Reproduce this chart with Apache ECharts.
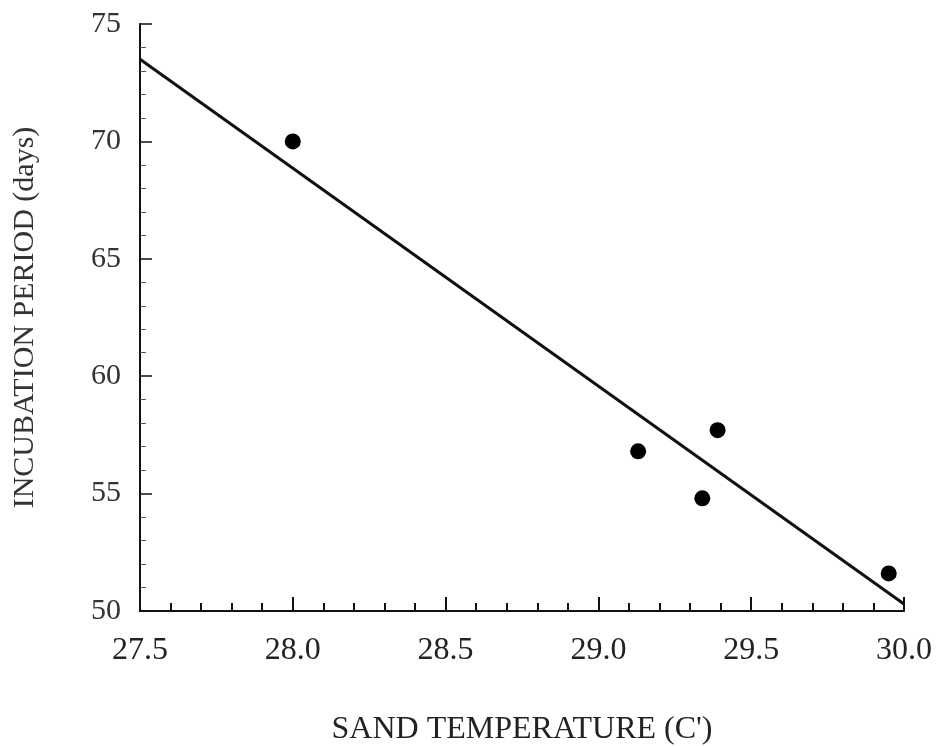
<!DOCTYPE html>
<html>
<head>
<meta charset="utf-8">
<script src="https://cdn.jsdelivr.net/npm/echarts@6/dist/echarts.min.js"></script>
<style>
  html, body { margin: 0; padding: 0; background: #fff; }
  #chart { width: 937px; height: 746px; }
</style>
</head>
<body>
<div id="chart"></div>
<script>
// observed points (sand temperature, incubation days)
var temps = [28.0, 29.13, 29.34, 29.39, 29.95];
var days = [70.0, 56.8, 54.8, 57.7, 51.6];
// fitted line ends
var fitX = [27.5, 30.0];
var fitY = [73.5, 50.3];

var xTicks = ['27.5', '28.0', '28.5', '29.0', '29.5', '30.0'];

var chart = echarts.init(document.getElementById('chart'));
var serif = '"Liberation Serif", "DejaVu Serif", serif';

var option = {
    animation: false,
    grid: {
        left: 140,
        right: 33,
        top: 24,
        bottom: 135,
        outerBoundsMode: 'none'
    },
    xAxis: {
        type: 'value',
        min: 27.5,
        max: 30.0,
        interval: 0.5,
        name: 'SAND TEMPERATURE (C\')',
        nameLocation: 'middle',
        nameGap: 103,
        nameTextStyle: { fontFamily: serif, fontSize: 32, color: '#222' },
        axisLine: { lineStyle: { color: '#111', width: 2 } },
        axisTick: { inside: true, length: 14, lineStyle: { color: '#111', width: 2 } },
        minorTick: { show: true, splitNumber: 5, length: 8, lineStyle: { color: '#111', width: 2 } },
        splitLine: { show: false },
        axisLabel: {
            margin: 24,
            fontFamily: serif,
            fontSize: 32,
            color: '#222',
            formatter: function (v) {
                var s = v.toFixed(1);
                return xTicks.indexOf(s) >= 0 ? s : '';
            }
        }
    },
    yAxis: {
        type: 'value',
        min: 50,
        max: 75,
        interval: 5,
        name: 'INCUBATION PERIOD (days)',
        nameLocation: 'middle',
        nameGap: 100,
        nameTextStyle: { fontFamily: serif, fontSize: 30, color: '#333' },
        axisLine: { show: true, lineStyle: { color: '#111', width: 2 } },
        axisTick: { inside: true, length: 12, lineStyle: { color: '#111', width: 1.5 } },
        minorTick: { show: true, splitNumber: 5, length: 6, lineStyle: { color: '#555', width: 1 } },
        splitLine: { show: false },
        axisLabel: {
            margin: 19,
            fontFamily: serif,
            fontSize: 30,
            color: '#333'
        }
    },
    series: [
        {
            type: 'line',
            data: fitX.map(function (x, i) { return [x, fitY[i]]; }),
            symbol: 'none',
            lineStyle: { color: '#111', width: 3 },
            z: 3
        },
        {
            type: 'scatter',
            data: temps.map(function (t, i) { return [t, days[i]]; }),
            symbol: 'circle',
            symbolSize: 16,
            itemStyle: { color: '#000', opacity: 1 },
            z: 4
        }
    ]
};

chart.setOption(option);
</script>
</body>
</html>
